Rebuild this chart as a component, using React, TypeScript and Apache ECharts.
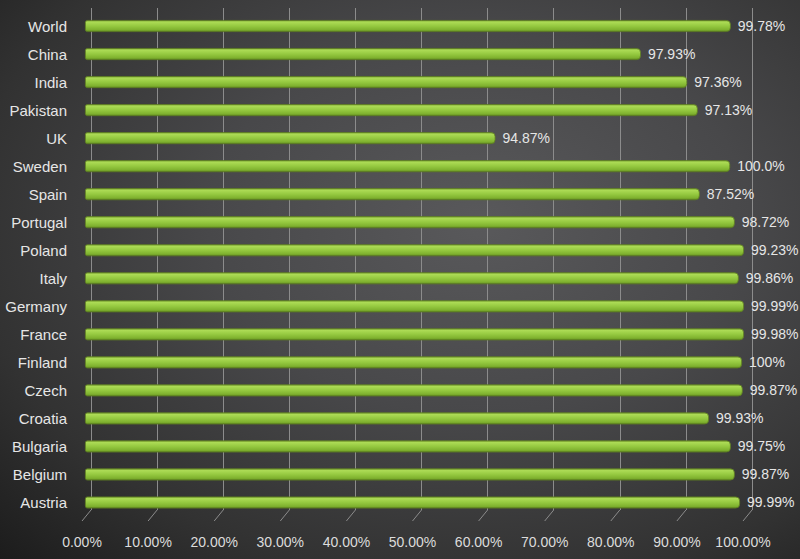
import React, { useEffect, useRef } from "react";
import * as echarts from "echarts";

const categories = [
  "World", "China", "India", "Pakistan", "UK", "Sweden", "Spain", "Portugal", "Poland",
  "Italy", "Germany", "France", "Finland", "Czech", "Croatia", "Bulgaria", "Belgium", "Austria",
];
// bar lengths as drawn (percent)
const barValues = [
  97.7, 84.1, 91.1, 92.7, 62.1, 97.6, 93.0, 98.3, 99.7,
  98.9, 99.7, 99.7, 99.4, 99.5, 94.4, 97.7, 98.3, 99.1,
];
// data labels as printed
const labelTexts = [
  "99.78%", "97.93%", "97.36%", "97.13%", "94.87%", "100.0%", "87.52%", "98.72%", "99.23%",
  "99.86%", "99.99%", "99.98%", "100%", "99.87%", "99.93%", "99.75%", "99.87%", "99.99%",
];
const xTicks = [0, 10, 20, 30, 40, 50, 60, 70, 80, 90, 100];

const FONT = "'Liberation Sans', Arial, sans-serif";

export default function App() {
  const ref = useRef<HTMLDivElement>(null);
  useEffect(() => {
    if (!ref.current) return;
    const chart = echarts.init(ref.current, undefined, { renderer: "svg" });
    const option: any = {
      animation: false,
      backgroundColor: "transparent",
      grid: [
        { left: 91, right: 48, top: 8, bottom: 49 },
        { left: 82, right: 57, top: 12, bottom: 38 },
        { left: 85, right: 54, top: 12, bottom: 42.5 },
      ],
      xAxis: [
        {
          gridIndex: 0, type: "value", min: 0, max: 100, interval: 10,
          axisLine: { show: false }, axisTick: { show: false }, axisLabel: { show: false },
          splitLine: { show: true, lineStyle: { color: "#8c8c8c", width: 1 } },
        },
        {
          gridIndex: 1, type: "value", min: 0, max: 100, interval: 10,
          axisLine: { show: false }, axisTick: { show: false }, splitLine: { show: false },
          axisLabel: {
            show: true, color: "#dcdcdc", fontSize: 14, fontFamily: FONT, margin: 14,
            formatter: (v: number) => v.toFixed(2) + "%",
          },
        },
        {
          gridIndex: 2, type: "value", min: 0, max: 100,
          axisLine: { show: false }, axisTick: { show: false }, axisLabel: { show: false },
          splitLine: { show: false },
        },
      ],
      yAxis: [
        { gridIndex: 0, type: "category", data: categories, inverse: true, show: false },
        { gridIndex: 1, type: "category", data: categories, inverse: true, show: false },
        {
          gridIndex: 2, type: "category", data: categories, inverse: true,
          axisLine: { show: false }, axisTick: { show: false },
          axisLabel: {
            color: "#e6e6e6", fontSize: 15, fontFamily: FONT, margin: 18,
            padding: [6, 0, 0, 0],
          },
        },
      ],
      series: [
        {
          type: "bar", xAxisIndex: 2, yAxisIndex: 2, data: barValues,
          barWidth: 12,
          itemStyle: {
            borderRadius: [2, 4, 4, 2],
            borderColor: "#5f7f22", borderWidth: 0.8,
            color: new echarts.graphic.LinearGradient(0, 0, 0, 1, [
              { offset: 0, color: "#7fa836" },
              { offset: 0.15, color: "#acdb55" },
              { offset: 0.5, color: "#95c940" },
              { offset: 0.85, color: "#7eb02e" },
              { offset: 1, color: "#5c8520" },
            ]),
          },
          label: {
            show: true, position: "right", distance: 7,
            color: "#e6e6e6", fontSize: 14, fontFamily: FONT,
            padding: [6, 0, 0, 0],
            formatter: (p: any) => labelTexts[p.dataIndex],
          },
        },
      ],
    };
    chart.setOption(option);
    const graphics: any[] = [];
    xTicks.forEach((t) => {
      const xb = chart.convertToPixel({ xAxisIndex: 0 }, t) as number;
      const xf = chart.convertToPixel({ xAxisIndex: 1 }, t) as number;
      graphics.push({
        type: "line",
        shape: { x1: xb, y1: 510, x2: xf, y2: 521 },
        style: { stroke: "#8c8c8c", lineWidth: 1 },
        silent: true,
      });
    });
    chart.setOption({ graphic: graphics });
    return () => chart.dispose();
  }, []);
  return (
    <div
      ref={ref}
      style={{
        position: "absolute", left: 0, top: 0, width: 800, height: 559,
        background: "radial-gradient(ellipse at 60% 40%, #59595b 0%, #48484a 40%, #323232 75%, #1c1c1c 100%)",
      }}
    />
  );
}
